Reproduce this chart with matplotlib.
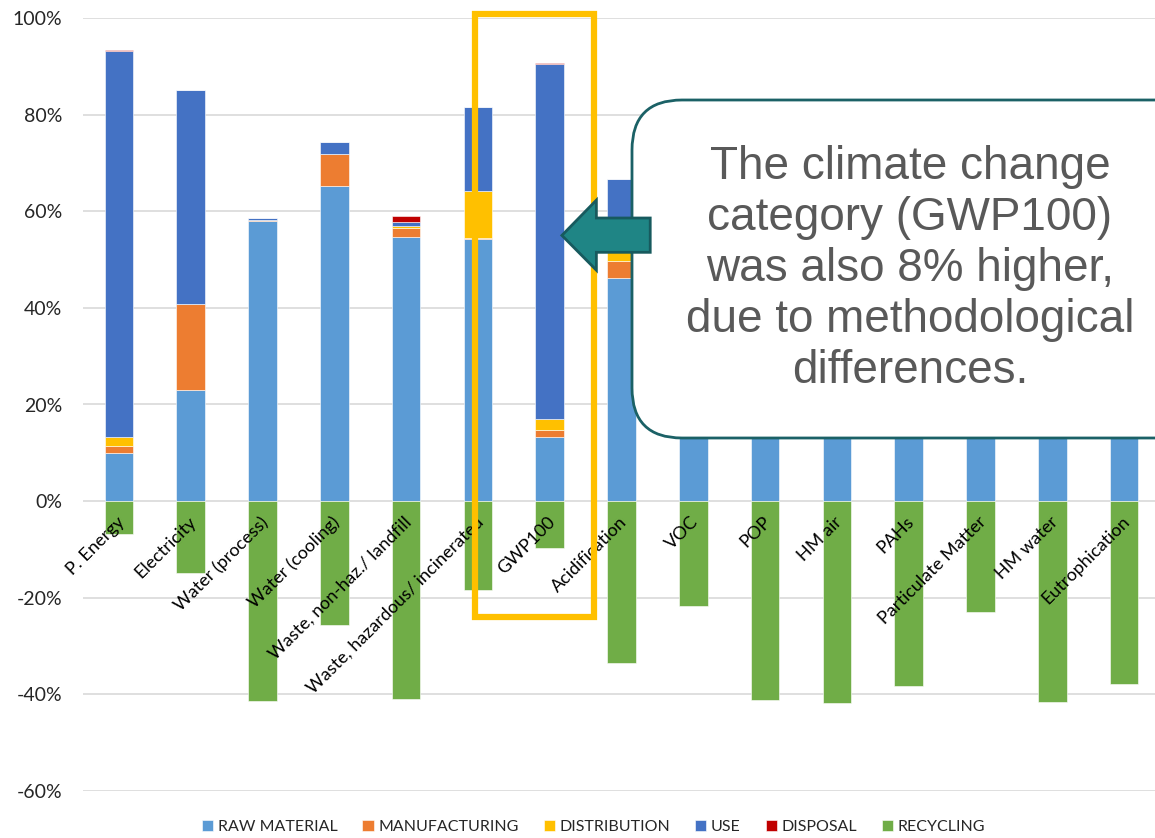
import numpy as np
import matplotlib.pyplot as plt
from matplotlib.patches import FancyBboxPatch, Polygon, Rectangle
from matplotlib.ticker import FuncFormatter
import matplotlib.transforms as mtransforms

categories = ["P. Energy", "Electricity", "Water (process)", "Water (cooling)",
              "Waste, non-haz./ landfill", "Waste, hazardous/ incinerated",
              "GWP100", "Acidification", "VOC", "POP", "HM air", "PAHs",
              "Particulate Matter", "HM water", "Eutrophication"]

# % contribution per life-cycle stage (values behind the callout are estimates)
raw_material  = [9.9, 23.0, 58.0, 65.2, 54.7, 54.2, 13.3, 46.1, 48.0, 52.0, 55.0, 50.0, 45.0, 56.0, 52.0]
manufacturing = [1.5, 17.9, 0.2, 6.7, 1.9, 0.3, 1.5, 3.5, 4.0, 3.0, 5.0, 4.0, 6.0, 4.0, 5.0]
distribution  = [1.8, 0.0, 0.0, 0.0, 0.3, 9.7, 2.1, 1.9, 3.0, 2.0, 2.0, 3.0, 4.0, 2.0, 3.0]
use           = [80.0, 44.3, 0.4, 2.4, 0.9, 17.3, 73.5, 15.1, 12.0, 10.0, 8.0, 14.0, 15.0, 9.0, 12.0]
disposal      = [0.2, 0.0, 0.0, 0.0, 1.3, 0.0, 0.2, 0.0, 0.0, 0.0, 0.0, 0.0, 0.0, 0.0, 0.0]
recycling     = [-6.8, -14.8, -41.3, -25.7, -40.9, -18.4, -9.6, -33.5, -21.7, -41.2, -41.7, -38.2, -23.0, -41.5, -37.8]

stages = ["RAW MATERIAL", "MANUFACTURING", "DISTRIBUTION", "USE", "DISPOSAL", "RECYCLING"]
colors = ["#5B9BD5", "#ED7D31", "#FFC000", "#4472C4", "#C00000", "#70AD47"]

W, H = 1155, 838
fig = plt.figure(figsize=(W / 100, H / 100), dpi=100)
ax = fig.add_axes([83 / W, (H - 791) / H, (1160 - 83) / W, (791 - 18) / H])

x = np.arange(len(categories))
bw = 0.4
bottom = np.zeros(len(categories))
for vals, col, lab in zip([raw_material, manufacturing, distribution, use, disposal],
                          colors[:5], stages[:5]):
    ax.bar(x, vals, bw, bottom=bottom, color=col, label=lab,
           edgecolor="white", linewidth=0.4, zorder=2)
    bottom += np.array(vals)
ax.bar(x, recycling, bw, color=colors[5], label=stages[5],
       edgecolor="white", linewidth=0.4, zorder=2)

ax.set_xlim(-0.5, len(categories) - 0.5)
ax.set_ylim(-60, 100)
ax.set_yticks(np.arange(-60, 101, 20))
ax.yaxis.set_major_formatter(FuncFormatter(lambda v, p: f"{v:.0f}%"))
ax.grid(axis="y", color="#D9D9D9", linewidth=1.2, zorder=0)
ax.set_axisbelow(True)
for s in ax.spines.values():
    s.set_visible(False)
ax.tick_params(axis="y", length=0, pad=15, labelsize=14, labelcolor="#262626")
for t in ax.get_yticklabels():
    t.set_fontfamily("Lato")
ax.tick_params(axis="x", length=0)
ax.set_xticks([])

# rotated category labels hanging from the zero line
off = mtransforms.ScaledTranslation(-2 / 72, -9 / 72, fig.dpi_scale_trans)
for xi, name in zip(x, categories):
    ax.text(xi, 0, name, rotation=45, ha="right", va="top", rotation_mode="anchor",
            fontsize=13, family="Lato", color="black",
            transform=ax.transData + off, zorder=3)

# yellow highlight around GWP100
gi = categories.index("GWP100")
ax.add_patch(Rectangle((gi - 1.04, -24), 1.66, 124.9, fill=False, edgecolor="#FFC000",
                       linewidth=4.5, clip_on=False, zorder=4))

# callout box (figure pixel geometry, drawn inside the axes so the arrow can sit on top)
r = 50 / W
cb = FancyBboxPatch((632 / W, (H - 438) / H), (1250 - 632) / W, (438 - 100) / H,
                    boxstyle=f"round,pad=0,rounding_size={r}", mutation_aspect=W / H,
                    transform=fig.transFigure, facecolor="white", edgecolor="#1B6166",
                    linewidth=2, clip_on=False, zorder=5)
ax.add_patch(cb)
ax.text(910 / W, (H - 269) / H,
        "The climate change\ncategory (GWP100)\nwas also 8% higher,\ndue to methodological\ndifferences.",
        ha="center", va="center", fontsize=33, family="Liberation Sans",
        color="#595959", linespacing=1.2, transform=fig.transFigure, zorder=6)

# arrow pointing at GWP100
arrow = Polygon([(gi + 0.17, 55.0), (gi + 0.65, 62.3), (gi + 0.65, 58.6), (gi + 1.40, 58.6),
                 (gi + 1.40, 51.5), (gi + 0.65, 51.5), (gi + 0.65, 47.8)],
                closed=True, facecolor="#1F8585", edgecolor="#175A5E", linewidth=2,
                clip_on=False, zorder=7)
ax.add_patch(arrow)

leg = fig.legend(loc="lower center", bbox_to_anchor=(0.514, -0.012), ncol=6, frameon=False,
                 handlelength=0.7, handleheight=0.7, handletextpad=0.3, columnspacing=1.55,
                 prop={"family": "Lato", "size": 11.5})
for t in leg.get_texts():
    t.set_color("#262626")

fig.savefig("out.png", dpi=100)
